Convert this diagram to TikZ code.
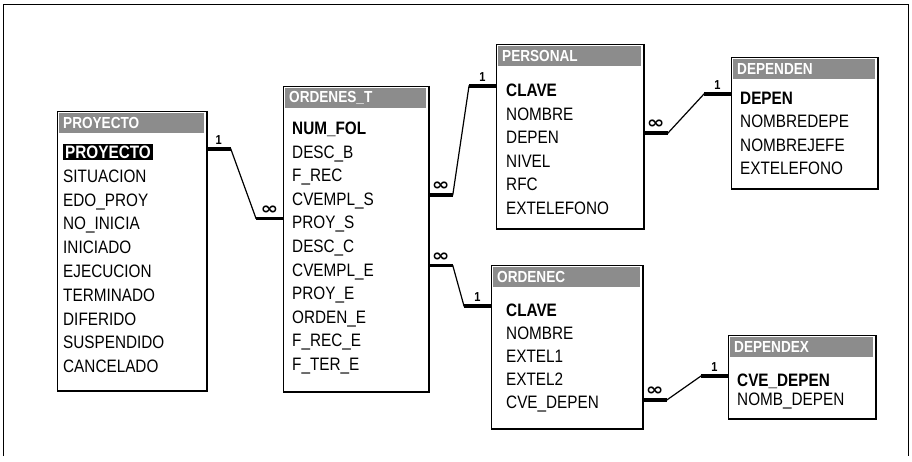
\documentclass[tikz,border=0pt]{standalone}
\usepackage{fontspec}
\setmainfont[FakeStretch=0.85]{Liberation Sans}
\newfontfamily\simbolos{DejaVu Sans}
\usetikzlibrary{calc}

\tikzset{
  caja/.style={draw=black, line width=0.8pt, fill=white, anchor=north west, inner sep=0pt},
  barra/.style={fill=black!45},
  titulo/.style={anchor=west, inner sep=0pt, text=white, font=\fontsize{16}{16}\selectfont\bfseries},
  campo/.style={anchor=west, inner sep=0pt, text height=13pt, text depth=0pt,
                font=\fontsize{18}{18}\selectfont},
  clave/.style={campo, font=\fontsize{18}{18}\selectfont\bfseries},
  selec/.style={clave, fill=black, text=white, inner xsep=2pt, inner ysep=1.5pt},
  enlace/.style={line width=1.2pt},
  tramo/.style={line width=3.5pt},
  etiqueta/.style={inner sep=0.5pt, font=\fontsize{13}{13}\selectfont\bfseries},
}

\newcommand{\muchos}{\scalebox{1.25}[1]{\simbolos\bfseries\fontsize{17}{17}\selectfont ∞}}

% box, title bar and the heavy right and bottom edges
\newcommand{\tabla}[6]{%
  \node[caja, minimum width=#4, minimum height=#5] (#1) at (#2,#3) {};
  \fill[barra] ($(#1.north west)+(2,2)$) rectangle ($(#1.north east)+(-3,22)$);
  \node[titulo] (#1t) at ($(#1.north west)+(6,12)$) {#6};
  \draw[line width=2pt] (#1.north east) -- (#1.south east) -- (#1.south west);
}

% field list, the first one is the key
\newcommand{\campos}[6]{%
  \foreach \f [count=\i from 0] in {#6} {
    \ifnum\i=0
      \node[#5] (#1\i) at (#2,#3) {\f};
    \else
      \node[campo] (#1\i) at (#2,{#3+#4*\i}) {\f};
    \fi
  }
}

% one-to-many line with its two stubs
\newcommand{\relacion}[5]{%
  \draw[enlace] (#1) -- ++(24,0) coordinate (#5a) -- ($(#2)+(-27,0)$) coordinate (#5b) -- (#2);
  \draw[tramo] (#1) -- (#5a) node[midway, above=2pt, etiqueta] (#5i) {#3};
  \draw[tramo] (#5b) -- (#2) node[midway, above=2pt, etiqueta] (#5f) {#4};
}

\begin{document}
\begin{tikzpicture}[x=1pt, y=-1pt, line cap=butt, line join=miter]
\useasboundingbox (0,0) rectangle (912,462);

% window frame
\draw[line width=1pt] (3,456) -- (3,5) -- (908,5) -- (908,456);

\tabla{proy}{57}{111}{149}{279}{PROYECTO}
\tabla{orde}{283}{86}{145}{305}{ORDENES\_T}
\tabla{pers}{496}{44}{147}{184}{PERSONAL}
\tabla{depe}{731}{57}{146}{131}{DEPENDEN}
\tabla{orec}{491}{265}{151}{163}{ORDENEC}
\tabla{depx}{728}{335}{147}{83}{DEPENDEX}

\campos{proy}{63}{152}{23.8}{selec}{PROYECTO,SITUACION,EDO\_PROY,NO\_INICIA,INICIADO,EJECUCION,TERMINADO,DIFERIDO,SUSPENDIDO,CANCELADO}
\campos{orde}{292}{128}{23.6}{clave}{NUM\_FOL,DESC\_B,F\_REC,CVEMPL\_S,PROY\_S,DESC\_C,CVEMPL\_E,PROY\_E,ORDEN\_E,F\_REC\_E,F\_TER\_E}
\campos{pers}{506}{90}{23.6}{clave}{CLAVE,NOMBRE,DEPEN,NIVEL,RFC,EXTELEFONO}
\campos{depe}{740}{98}{23.4}{clave}{DEPEN,NOMBREDEPE,NOMBREJEFE,EXTELEFONO}
\campos{orec}{506}{310}{23}{clave}{CLAVE,NOMBRE,EXTEL1,EXTEL2,CVE\_DEPEN}
\campos{depx}{737}{380}{18.5}{clave}{CVE\_DEPEN,NOMB\_DEPEN}

\coordinate (p1) at ([yshift=3]proy.east |- proy0);
\coordinate (p2) at ([yshift=4]orde.west |- orde4);
\coordinate (p3) at ([yshift=4]orde.east |- orde3);
\coordinate (p4) at ([yshift=4]pers.west |- pers0);
\coordinate (p5) at ([yshift=4]pers.east |- pers2);
\coordinate (p6) at ([yshift=4]depe.west |- depe0);
\coordinate (p7) at ([yshift=4]orde.east |- orde6);
\coordinate (p8) at ([yshift=4]orec.west |- orec0);
\coordinate (p9) at ([yshift=2]orec.east |- orec4);
\coordinate (p10) at ([yshift=4]depx.west |- depx0);

\relacion{p1}{p2}{1}{\muchos}{ra}
\relacion{p3}{p4}{\muchos}{1}{rb}
\relacion{p5}{p6}{\muchos}{1}{rc}
\relacion{p7}{p8}{\muchos}{1}{rd}
\relacion{p9}{p10}{\muchos}{1}{re}

\end{tikzpicture}
\end{document}
